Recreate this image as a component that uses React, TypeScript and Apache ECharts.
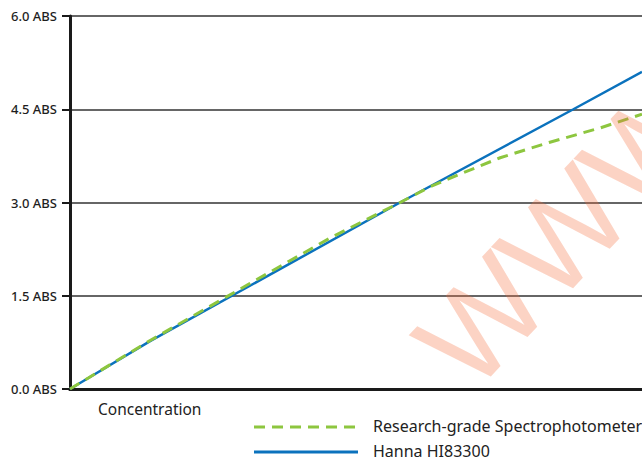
import React, { useEffect, useRef } from "react";
import * as echarts from "echarts";

const yTickValues = [0, 1.5, 3.0, 4.5, 6.0];
const yTickSuffix = " ABS";
const xAxisTitle = "Concentration";

const seriesNames = ["Research-grade Spectrophotometer", "Hanna HI83300"];
const seriesColors = ["#8dc63f", "#0b72bd"];

const researchConc = [0, 14, 31.5, 45.5, 57.7, 62.9, 66.4, 75.2, 83.9, 92.7, 100];
const researchAbs = [0, 0.78, 1.7, 2.43, 3.0, 3.25, 3.39, 3.72, 3.97, 4.2, 4.42];

const hannaConc = [0, 14, 57.7, 88, 100];
const hannaAbs = [0, 0.77, 3.0, 4.5, 5.1];

const watermarkText = "WWW";

const FONT = "'Noto Sans', 'DejaVu Sans', sans-serif";
const DASH = [11, 7];

export default function App() {
  const ref = useRef<HTMLDivElement>(null);

  useEffect(() => {
    if (!ref.current) return;
    const chart = echarts.init(ref.current, undefined, { renderer: "svg" });
    const pairs = (xs: number[], ys: number[]) => xs.map((x, i) => [x, ys[i]]);

    const lineRows = [427, 452];
    const textRows = [426, 451];
    const legendGraphics: any[] = [];
    seriesNames.forEach((name, i) => {
      legendGraphics.push({
        type: "line",
        shape: { x1: 254, y1: lineRows[i], x2: 358, y2: lineRows[i] },
        style: {
          stroke: seriesColors[i],
          lineWidth: 3,
          lineDash: i === 0 ? DASH : null,
        },
      });
      legendGraphics.push({
        type: "text",
        x: 373,
        y: textRows[i],
        style: {
          text: name,
          fontFamily: FONT,
          fontSize: 16,
          fill: "#222222",
          verticalAlign: "middle",
          align: "left",
        },
      });
    });

    chart.setOption({
      animation: false,
      backgroundColor: "#ffffff",
      grid: { left: 70, top: 16, right: 0, bottom: 70, containLabel: false },
      xAxis: [
        {
          type: "value",
          min: 0,
          max: 100,
          position: "bottom",
          axisLine: { show: true, onZero: false, lineStyle: { color: "#1a1a1a", width: 3 } },
          axisTick: { show: false },
          axisLabel: { show: false },
          splitLine: { show: false },
        },
        {
          type: "value",
          min: 0,
          max: 100,
          position: "top",
          axisLine: { show: true, lineStyle: { color: "#1a1a1a", width: 3 } },
          axisTick: { show: false },
          axisLabel: { show: false },
          splitLine: { show: false },
        },
      ],
      yAxis: {
        type: "value",
        min: 0,
        max: 6,
        interval: 1.5,
        axisLine: { show: true, lineStyle: { color: "#1a1a1a", width: 3 } },
        axisTick: { show: true, length: 8, lineStyle: { color: "#1a1a1a", width: 2 } },
        axisLabel: {
          margin: 13,
          color: "#1e1e1e",
          fontFamily: FONT,
          fontSize: 13,
          fontWeight: 500,
          formatter: (v: number) => {
            const match = yTickValues.find((t) => Math.abs(t - v) < 1e-6);
            return match === undefined ? "" : match.toFixed(1) + yTickSuffix;
          },
        },
        splitLine: { show: true, lineStyle: { color: "#333333", width: 1.5 } },
      },
      series: [
        {
          name: seriesNames[0],
          type: "line",
          symbol: "none",
          data: pairs(researchConc, researchAbs),
          lineStyle: { color: seriesColors[0], width: 3, type: DASH },
          itemStyle: { color: seriesColors[0] },
          z: 3,
        },
        {
          name: seriesNames[1],
          type: "line",
          symbol: "none",
          data: pairs(hannaConc, hannaAbs),
          lineStyle: { color: seriesColors[1], width: 2.5 },
          itemStyle: { color: seriesColors[1] },
          z: 2,
        },
      ],
      graphic: [
        {
          type: "text",
          left: 98,
          top: 401,
          style: { text: xAxisTitle, fontFamily: FONT, fontSize: 15.5, fill: "#222222" },
        },
        ...legendGraphics,
        {
          type: "text",
          x: 478,
          y: 316,
          rotation: 0.82,
          z: 100,
          silent: true,
          style: {
            text: watermarkText,
            x: -62,
            y: 6,
            align: "left",
            verticalAlign: "middle",
            fontFamily: "'Liberation Sans', sans-serif",
            fontSize: 128,
            fill: "rgba(245,110,60,0.3)",
          },
        },
      ],
    });

    return () => chart.dispose();
  }, []);

  return (
    <div
      ref={ref}
      style={{ position: "absolute", left: 0, top: 0, width: 642, height: 459 }}
    />
  );
}
